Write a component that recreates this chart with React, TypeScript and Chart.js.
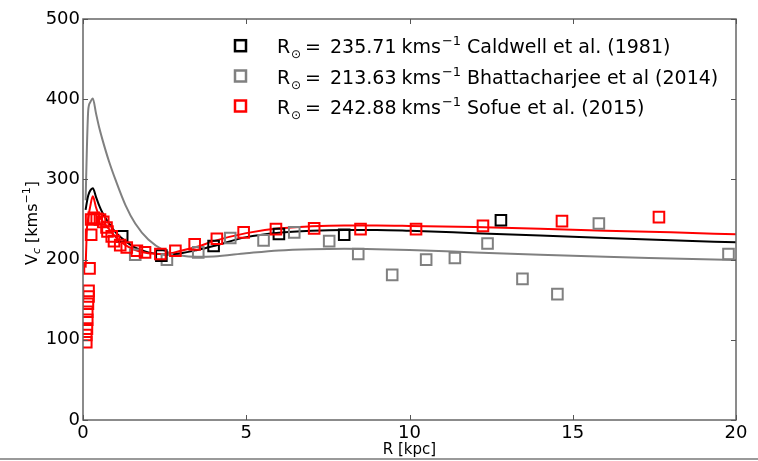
import React, { useEffect, useRef } from 'react';
import { Chart, registerables } from 'chart.js';

Chart.register(...registerables);

// Model curves (R in kpc, Vc in km/s)
const modelR = [0.08, 0.12, 0.16, 0.22, 0.3, 0.4, 0.5, 0.6, 0.8, 1.0, 1.3, 1.6, 2.0, 2.5, 3.0, 3.5, 4, 5, 6, 7, 8, 9, 10, 12, 14, 16, 18, 20];
const caldwellModel = [262, 272, 280, 286, 289, 278, 267, 258, 245, 234, 223, 215, 209, 206.5, 208, 212, 217, 228, 233.5, 236, 237, 237, 236, 233, 230, 227, 224, 221.5];
const bhattModel = [274, 340, 386, 396, 401, 382, 364, 349, 322, 299, 268, 245, 225, 211, 205, 203.5, 204, 208, 211.5, 213, 213.5, 213, 212, 209, 206, 203.5, 201.5, 199.5];
const sofueModel = [190, 238, 252, 266, 279, 265, 254, 248, 238, 228, 218, 212, 208, 207, 211, 216, 223, 233, 239, 241.5, 242.5, 242.5, 242, 240.5, 238.5, 236, 234, 231.5];

// Observed points
const caldwellR = [1.2, 2.4, 4.0, 6.0, 8.0, 12.8];
const caldwellV = [229, 205, 217, 232, 231, 249];
const bhattR = [1.6, 2.57, 3.53, 4.51, 5.53, 6.47, 7.54, 8.43, 9.47, 10.51, 11.39, 12.39, 13.46, 14.53, 15.8, 19.77];
const bhattV = [206, 200, 209, 227, 224, 234, 223, 207, 181, 200, 202, 220, 176, 157, 245, 207];
const sofueR = [0.1, 0.1, 0.12, 0.13, 0.13, 0.15, 0.17, 0.17, 0.2, 0.25, 0.25, 0.33, 0.42, 0.52, 0.62, 0.72, 0.75, 0.88, 0.95, 1.14, 1.34, 1.65, 1.9, 2.37, 2.83, 3.42, 4.1, 4.92, 5.91, 7.08, 8.5, 10.2, 12.25, 14.67, 17.64];
const sofueV = [97, 106, 114, 125, 135, 145, 154, 161, 189, 231, 250, 252, 251, 250, 247, 240, 235, 229, 223, 218, 215, 211, 209, 207, 211, 219, 226, 234, 238, 239, 238, 238, 242, 248, 253];

const xTicks = [0, 5, 10, 15, 20];
const yTicks = [0, 100, 200, 300, 400, 500];

const legendValues = ['235.71', '213.63', '242.88'];
const legendNames = ['Caldwell et al. (1981)', 'Bhattacharjee et al (2014)', 'Sofue et al. (2015)'];
const seriesColors = ['#000000', '#808080', '#ff0000'];

const FONT = "'DejaVu Sans', 'Liberation Sans', sans-serif";

const pts = (xs: number[], ys: number[]) => xs.map((x, i) => ({ x, y: ys[i] }));

const decorPlugin = {
  id: 'decor',
  afterDraw(chart: any) {
    const ctx = chart.ctx as CanvasRenderingContext2D;
    const { left, right, top, bottom } = chart.chartArea;
    const xs = chart.scales.x;
    const ys = chart.scales.y;
    ctx.save();
    // frame
    ctx.strokeStyle = '#666666';
    ctx.lineWidth = 1.5;
    ctx.strokeRect(left, top, right - left, bottom - top);
    // inward ticks
    ctx.lineWidth = 1;
    ctx.strokeStyle = '#555555';
    const tl = 5;
    ctx.beginPath();
    xTicks.forEach((v) => {
      const px = Math.round(xs.getPixelForValue(v)) + 0.5;
      ctx.moveTo(px, bottom); ctx.lineTo(px, bottom - tl);
      ctx.moveTo(px, top); ctx.lineTo(px, top + tl);
    });
    yTicks.forEach((v) => {
      const py = Math.round(ys.getPixelForValue(v)) + 0.5;
      ctx.moveTo(left, py); ctx.lineTo(left + tl, py);
      ctx.moveTo(right, py); ctx.lineTo(right - tl, py);
    });
    ctx.stroke();

    // x title
    ctx.fillStyle = '#000';
    ctx.font = `15px ${FONT}`;
    ctx.textAlign = 'center';
    ctx.textBaseline = 'alphabetic';
    ctx.fillText('R [kpc]', (left + right) / 2, 454);

    // y title (rotated, with sub/superscript)
    const big = `16px ${FONT}`;
    const small = `11px ${FONT}`;
    const smallIt = `italic 11px ${FONT}`;
    const parts: [string, string, number][] = [
      ['V', big, 0],
      ['c', smallIt, 3],
      [' [kms', big, 0],
      ['\u22121', small, -7],
      [']', big, 0],
    ];
    let total = 0;
    parts.forEach(([t, f]) => { ctx.font = f; total += ctx.measureText(t).width; });
    ctx.save();
    ctx.translate(37, 223 + total / 2);
    ctx.rotate(-Math.PI / 2);
    ctx.textAlign = 'left';
    let cx = 0;
    parts.forEach(([t, f, dy]) => {
      ctx.font = f;
      ctx.fillText(t, cx, dy);
      cx += ctx.measureText(t).width;
    });
    ctx.restore();

    // legend
    const rowY = [45.7, 76, 106];
    rowY.forEach((cy, i) => {
      ctx.strokeStyle = seriesColors[i];
      ctx.lineWidth = 2.5;
      ctx.strokeRect(235, cy - 5.5, 11, 11);
      const base = cy + 7.5;
      ctx.fillStyle = '#000';
      ctx.textAlign = 'left';
      ctx.font = `19px ${FONT}`;
      ctx.fillText('R', 277, base);
      ctx.font = `12px ${FONT}`;
      ctx.fillText('\u2299', 291, base + 5);
      ctx.font = `19px ${FONT}`;
      ctx.fillText('=', 305, base);
      const valTxt = legendValues[i];
      ctx.fillText(valTxt, 330, base);
      let x2 = 330 + ctx.measureText(valTxt).width + 5;
      ctx.fillText('kms', x2, base);
      x2 += ctx.measureText('kms').width + 1;
      ctx.font = `13px ${FONT}`;
      ctx.fillText('\u22121', x2, base - 8);
      ctx.font = `19px ${FONT}`;
      ctx.fillText(legendNames[i], 467, base);
    });

    // bottom figure edge line
    ctx.fillStyle = '#9a9a9a';
    ctx.fillRect(0, 458, chart.width, 2);
    ctx.restore();
  },
};

export default function App() {
  const ref = useRef<HTMLCanvasElement>(null);
  useEffect(() => {
    if (!ref.current) return;
    const lineDs = (label: string, data: number[], color: string, order: number) => ({
      label,
      data: pts(modelR, data),
      showLine: true,
      borderColor: color,
      backgroundColor: color,
      borderWidth: 2,
      pointRadius: 0,
      cubicInterpolationMode: 'monotone' as const,
      order,
    });
    const ptDs = (label: string, xs: number[], ys: number[], color: string, order: number) => ({
      label,
      data: pts(xs, ys),
      showLine: false,
      borderColor: color,
      backgroundColor: 'rgba(0,0,0,0)',
      pointStyle: 'rect' as const,
      pointRadius: 7.5,
      pointBorderWidth: 2,
      order,
    });
    const chart = new Chart(ref.current, {
      type: 'scatter',
      data: {
        datasets: [
          ptDs('Sofue data', sofueR, sofueV, '#ff0000', 0),
          ptDs('Caldwell data', caldwellR, caldwellV, '#000000', 1),
          ptDs('Bhattacharjee data', bhattR, bhattV, '#808080', 2),
          lineDs('Sofue model', sofueModel, '#ff0000', 3),
          lineDs('Caldwell model', caldwellModel, '#000000', 4),
          lineDs('Bhattacharjee model', bhattModel, '#808080', 5),
        ] as any,
      },
      options: {
        animation: false,
        responsive: true,
        maintainAspectRatio: false,
        layout: { padding: { left: 0, right: 22, top: 19, bottom: 0 } },
        plugins: { legend: { display: false }, tooltip: { enabled: false }, title: { display: false } },
        scales: {
          x: {
            type: 'linear',
            min: 0,
            max: 20,
            grid: { display: false, drawTicks: false, tickLength: 0 },
            border: { display: false },
            afterFit: (s: any) => { s.height = 41; },
            afterBuildTicks: (s: any) => { s.ticks = xTicks.map((v) => ({ value: v })); },
            ticks: {
              autoSkip: false,
              maxRotation: 0,
              padding: 3,
              color: '#000',
              font: { family: FONT, size: 18 },
            },
          },
          y: {
            type: 'linear',
            min: 0,
            max: 500,
            grid: { display: false, drawTicks: false, tickLength: 0 },
            border: { display: false },
            afterFit: (s: any) => { s.width = 83; },
            afterBuildTicks: (s: any) => { s.ticks = yTicks.map((v) => ({ value: v })); },
            ticks: {
              autoSkip: false,
              padding: 3,
              color: '#000',
              font: { family: FONT, size: 18 },
            },
          },
        },
      },
      plugins: [decorPlugin],
    });
    return () => chart.destroy();
  }, []);
  return (
    <div style={{ position: 'absolute', left: 0, top: 0, width: 758, height: 461 }}>
      <canvas ref={ref} />
    </div>
  );
}
